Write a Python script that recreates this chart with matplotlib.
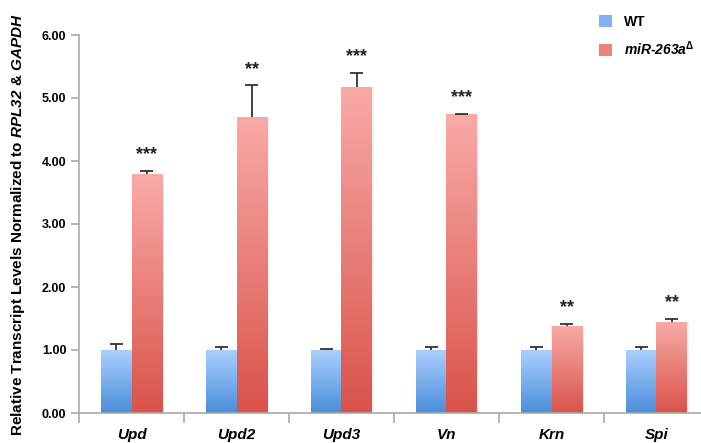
import numpy as np
import matplotlib
matplotlib.use("Agg")
from matplotlib import pyplot as plt
from matplotlib.colors import LinearSegmentedColormap
from matplotlib.patches import Patch

plt.rcParams['font.family'] = ['Liberation Sans', 'DejaVu Sans']
plt.rcParams['mathtext.fontset'] = 'custom'
plt.rcParams['mathtext.rm'] = 'Liberation Sans:bold'
plt.rcParams['mathtext.it'] = 'Liberation Sans:italic:bold'
plt.rcParams['mathtext.bf'] = 'Liberation Sans:bold'
plt.rcParams['mathtext.bfit'] = 'Liberation Sans:italic:bold'

# data
genes = ['Upd', 'Upd2', 'Upd3', 'Vn', 'Krn', 'Spi']
wt = [1.00, 1.00, 1.00, 1.00, 1.00, 1.00]
wt_err = [0.09, 0.05, 0.01, 0.05, 0.05, 0.05]
mut = [3.79, 4.70, 5.18, 4.74, 1.38, 1.44]
mut_err = [0.05, 0.50, 0.22, 0.01, 0.04, 0.05]
stars = ['***', '**', '***', '***', '**', '**']
yticks = [0, 1, 2, 3, 4, 5, 6]

blue_cm = LinearSegmentedColormap.from_list('b', ['#4a8ed9', '#aacffd'])
red_cm = LinearSegmentedColormap.from_list('r', ['#d9534a', '#f9aaa7'])

fig = plt.figure(figsize=(7.01, 4.43), dpi=100)
ax = fig.add_axes([79/701, 1 - 413/443, 622/701, 378/443])

x = np.arange(len(genes))
w = 0.286
b1 = ax.bar(x - w/2, wt, w, color='none', zorder=2)
b2 = ax.bar(x + w/2, mut, w, color='none', zorder=2)

grad = np.linspace(0, 1, 256).reshape(-1, 1)
for bars, cm in [(b1, blue_cm), (b2, red_cm)]:
    for p in bars:
        x0, y0 = p.get_x(), p.get_y()
        x1, y1 = x0 + p.get_width(), y0 + p.get_height()
        # faint shadow
        ax.bar(x0 + p.get_width()/2 + 0.01, p.get_height(), p.get_width() + 0.02,
               color='#000000', alpha=0.06, zorder=1)
        im = ax.imshow(grad, extent=[x0, x1, y0, y1], origin='lower', aspect='auto',
                       cmap=cm, zorder=2)
        im.set_clip_path(p)

# upper error bars only
cw = 0.065
for xs, vals, errs in [(x - w/2, wt, wt_err), (x + w/2, mut, mut_err)]:
    tops = np.array(vals) + np.array(errs)
    ax.vlines(xs, vals, tops, color='#333333', lw=1.3, zorder=3)
    ax.hlines(tops, xs - cw, xs + cw, color='#333333', lw=1.3, zorder=3)

for xi, m, e, s in zip(x, mut, mut_err, stars):
    ax.text(xi + w/2, m + e + 0.12, s, ha='center', va='bottom', fontsize=13,
            fontweight='bold', color='#222222')

ax.set_xlim(-0.5, -0.5 + 622/105)
ax.set_ylim(0, 6)
ax.set_yticks(yticks)
ax.set_yticklabels(['%.2f' % v for v in yticks], fontsize=9, fontweight='bold')
ax.set_xticks(x)
ax.set_xticklabels(genes, fontsize=11, fontweight='bold', fontstyle='italic')
ax.set_xticks(np.arange(-0.5, 5.0, 1.0), minor=True)
ax.tick_params(axis='x', which='major', length=0, pad=11)
ax.tick_params(axis='x', which='minor', length=7, color='#aaaaaa', width=1.2)
ax.tick_params(axis='y', length=6, color='#aaaaaa', width=1.2, pad=3)

for s in ['top', 'right']:
    ax.spines[s].set_visible(False)
for s in ['left', 'bottom']:
    ax.spines[s].set_color('#aaaaaa')
    ax.spines[s].set_linewidth(1.2)

fig.text(18/701, 1 - 225/443,
         r'Relative Transcript Levels Normalized to $\mathbfit{RPL32}$ & $\mathbfit{GAPDH}$',
         rotation=90, ha='center', va='center', fontsize=11, fontweight='bold')

handles = [Patch(facecolor='#7fb2f0', edgecolor='none'),
           Patch(facecolor='#ee807b', edgecolor='none')]
leg = fig.legend(handles, ['WT', r'miR-263a$^{\Delta}$'],
                 loc='upper left', bbox_to_anchor=(586/701, 1 - 2/443),
                 frameon=False, handlelength=0.95, handleheight=0.95,
                 handletextpad=0.9, labelspacing=0.8,
                 prop={'size': 10, 'weight': 'bold'})
leg.get_texts()[1].set_fontstyle('italic')

fig.savefig('out.png', dpi=100)
